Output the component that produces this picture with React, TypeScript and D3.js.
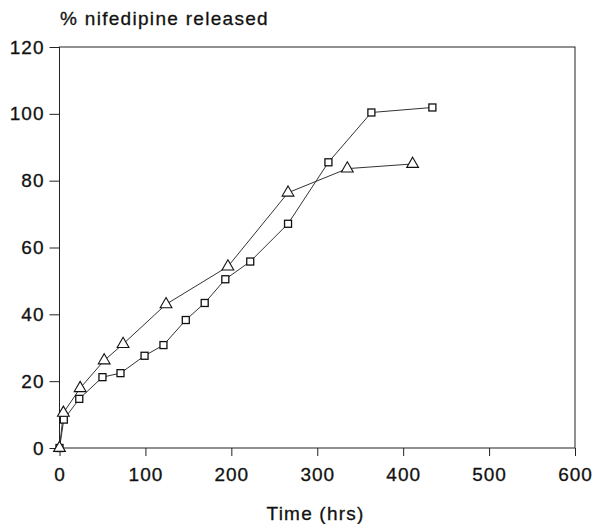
import React, { useEffect, useRef } from "react";
import * as d3 from "d3";

// release data (time in hrs, % released)
const squareTime = [0, 5, 23, 50, 71, 99, 121, 147, 169, 193, 222, 266, 313, 363, 434];
const squareRelease = [0, 8.5, 14.7, 21.2, 22.4, 27.6, 30.8, 38.3, 43.4, 50.5, 55.8, 67.1, 85.5, 100.4, 101.9];
const triangleTime = [0, 4.5, 24, 52, 74, 124, 196, 266, 335, 411];
const triangleRelease = [0, 10.5, 17.9, 26.2, 31.1, 43.0, 54.3, 76.4, 83.6, 85.0];

const xTicks = [0, 100, 200, 300, 400, 500, 600];
const yTicks = [0, 20, 40, 60, 80, 100, 120];

const FONT = "'Liberation Sans', Arial, sans-serif";

export default function App() {
  const ref = useRef<SVGSVGElement>(null);

  useEffect(() => {
    if (!ref.current) return;
    const svg = d3.select(ref.current);
    svg.selectAll("*").remove();

    const width = 597;
    const height = 524;
    const margin = { top: 47, right: 22, bottom: 76, left: 59.5 };

    const x = d3.scaleLinear().domain([0, 600]).range([margin.left, width - margin.right]);
    const y = d3.scaleLinear().domain([0, 120]).range([height - margin.bottom, margin.top]);

    // frame
    svg
      .append("rect")
      .attr("x", x(0))
      .attr("y", y(120))
      .attr("width", x(600) - x(0))
      .attr("height", y(0) - y(120))
      .attr("fill", "none")
      .attr("stroke", "#222")
      .attr("stroke-width", 1);

    // X axis
    const xAxis = svg
      .append("g")
      .attr("transform", `translate(0,${y(0)})`)
      .call(d3.axisBottom(x).tickValues(xTicks).tickSize(8).tickPadding(12).tickFormat(d3.format("d")));
    xAxis.select(".domain").remove();

    // Y axis
    const yAxis = svg
      .append("g")
      .attr("transform", `translate(${x(0)},0)`)
      .call(d3.axisLeft(y).tickValues(yTicks).tickSize(10).tickPadding(5).tickFormat(d3.format("d")));
    yAxis.select(".domain").remove();

    svg.selectAll(".tick line").attr("stroke", "#222");
    svg
      .selectAll(".tick text")
      .attr("fill", "#111")
      .attr("stroke", "#111")
      .attr("stroke-width", 0.3)
      .style("font-family", FONT)
      .style("font-size", "19px")
      .style("letter-spacing", "1px");
    xAxis.selectAll(".tick text").attr("dy", "0.71em");

    // titles
    svg
      .append("text")
      .attr("x", 60)
      .attr("y", 25)
      .attr("fill", "#111")
      .attr("stroke", "#111")
      .attr("stroke-width", 0.3)
      .style("font-family", FONT)
      .style("font-size", "19px")
      .style("letter-spacing", "1.3px")
      .text("% nifedipine released");

    svg
      .append("text")
      .attr("x", 315.5)
      .attr("y", 520)
      .attr("text-anchor", "middle")
      .attr("fill", "#111")
      .attr("stroke", "#111")
      .attr("stroke-width", 0.3)
      .style("font-family", FONT)
      .style("font-size", "19px")
      .style("letter-spacing", "1.2px")
      .text("Time (hrs)");

    const line = d3
      .line<[number, number]>()
      .x((d) => x(d[0]))
      .y((d) => y(d[1]));

    const squares: [number, number][] = squareTime.map((t, i) => [t, squareRelease[i]]);
    const triangles: [number, number][] = triangleTime.map((t, i) => [t, triangleRelease[i]]);

    svg
      .append("path")
      .datum(triangles)
      .attr("d", line)
      .attr("fill", "none")
      .attr("stroke", "#333")
      .attr("stroke-width", 1);

    svg
      .append("path")
      .datum(squares)
      .attr("d", line)
      .attr("fill", "none")
      .attr("stroke", "#333")
      .attr("stroke-width", 1);

    // markers
    const sq = 7;
    svg
      .append("g")
      .selectAll("rect")
      .data(squares)
      .join("rect")
      .attr("x", (d) => x(d[0]) - sq / 2)
      .attr("y", (d) => y(d[1]) - sq / 2)
      .attr("width", sq)
      .attr("height", sq)
      .attr("fill", "#fff")
      .attr("stroke", "#111")
      .attr("stroke-width", 1.3);

    const tri = d3.symbol().type(d3.symbolTriangle).size(60);
    svg
      .append("g")
      .selectAll("path")
      .data(triangles)
      .join("path")
      .attr("transform", (d) => `translate(${x(d[0])},${y(d[1])})`)
      .attr("d", tri)
      .attr("fill", "#fff")
      .attr("stroke", "#111")
      .attr("stroke-width", 1.1);
  }, []);

  return (
    <svg
      ref={ref}
      width={597}
      height={524}
      style={{ position: "absolute", left: 0, top: 0, background: "#fff" }}
    ></svg>
  );
}
